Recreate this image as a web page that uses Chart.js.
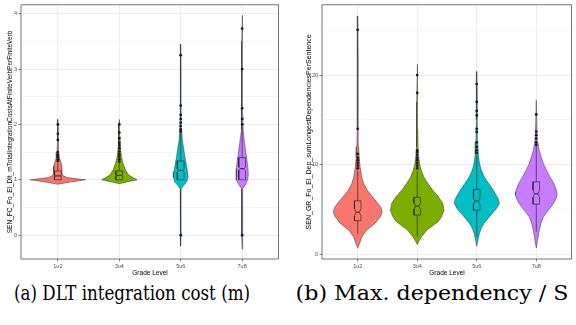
<!DOCTYPE html>
<html>
<head>
<meta charset="utf-8">
<script src="https://cdn.jsdelivr.net/npm/chart.js@4.4.0/dist/chart.umd.min.js"></script>
<style>
  html, body { margin: 0; padding: 0; background: #fff; }
  body { width: 576px; height: 325px; position: relative; overflow: hidden; }
  .panel { position: absolute; top: 0; }
  #panelA { left: 0; }
  #panelB { left: 290px; }
  .caption {
    position: absolute;
    top: 283px;
    font-family: "DejaVu Serif Condensed", "DejaVu Serif", serif;
    font-stretch: condensed;
    font-size: 21px;
    line-height: 21px;
    white-space: nowrap;
    transform-origin: 50% 50%;
    transform: translateX(-50%);
    color: #000;
  }
</style>
</head>
<body>
<div class="panel" id="panelA"><canvas id="costChart" width="290" height="280"></canvas></div>
<div class="panel" id="panelB"><canvas id="depChart" width="286" height="280"></canvas></div>
<div class="caption" style="left:132px" data-span="236">(a) DLT integration cost (m)</div>
<div class="caption" style="left:431.5px" data-span="273">(b) Max. dependency / S</div>
<script>
const grades = ['1u2', '3u4', '5u6', '7u8'];
const gradeColors = ['#F8766D', '#7CAE00', '#00BFC4', '#C77CFF'];

// (a) DLT integration cost per finite verb
const costTicks = [0, 1, 2, 3, 4];
const costViolinY = [
  [0.92, 0.96, 1.0, 1.04, 1.08, 1.15, 1.25, 1.32, 1.4, 1.5, 1.7, 1.9, 2.09],
  [0.93, 0.97, 1.0, 1.04, 1.09, 1.18, 1.3, 1.42, 1.6, 1.8, 2.0, 2.09],
  [-0.2, 0.0, 0.5, 0.84, 0.9, 0.97, 1.05, 1.15, 1.25, 1.4, 1.55, 1.7, 1.9, 2.2, 2.6, 3.0, 3.45],
  [-0.25, 0.0, 0.5, 0.84, 0.92, 1.0, 1.09, 1.2, 1.36, 1.54, 1.72, 1.9, 2.2, 2.6, 3.0, 3.5, 3.97],
];
const costViolinW = [
  [0, 0.2, 0.45, 0.15, 0.08, 0.07, 0.065, 0.05, 0.025, 0.014, 0.01, 0.008, 0],
  [0, 0.16, 0.29, 0.22, 0.15, 0.1, 0.06, 0.035, 0.016, 0.01, 0.008, 0],
  [0, 0.006, 0.005, 0.008, 0.05, 0.1, 0.12, 0.11, 0.095, 0.07, 0.05, 0.028, 0.014, 0.008, 0.006, 0.006, 0],
  [0, 0.008, 0.007, 0.01, 0.06, 0.09, 0.1, 0.095, 0.077, 0.055, 0.033, 0.016, 0.01, 0.008, 0.008, 0.007, 0],
];
const costQ1 = [1.0, 1.0, 1.0, 1.0];
const costMedian = [1.07, 1.08, 1.17, 1.2];
const costQ3 = [1.16, 1.16, 1.34, 1.4];
const costWhiskerLow = [1.0, 1.0, 1.0, 1.0];
const costWhiskerHigh = [1.3, 1.3, 1.85, 1.95];
const costNotch = [0.01, 0.01, 0.03, 0.03];
const costOutliers = [
  [2.0, 1.83, 1.72, 1.5, 1.45, 1.41, 1.37, 1.34],
  [2.0, 1.85, 1.75, 1.67, 1.62, 1.57, 1.51, 1.46, 1.42, 1.37, 1.33],
  [3.25, 2.34, 2.17, 2.1, 2.03, 1.97, 1.91, 1.87, 0.0],
  [3.73, 3.0, 2.29, 2.1, 2.0, 0.0],
];

// (b) sum of longest dependencies per sentence
const depTicks = [0, 10, 20];
const depViolinY = [
  [0.67, 1.2, 1.96, 2.7, 3.45, 4.19, 4.7, 5.2, 5.68, 6.4, 7.16, 7.9, 8.64, 9.75, 10.9, 12, 14, 18, 22, 26.6],
  [1.1, 1.5, 1.96, 2.7, 3.2, 3.63, 4.19, 4.93, 5.68, 6.4, 7.16, 7.9, 8.64, 9.4, 10.1, 11, 12, 14, 17, 21.2],
  [0.9, 1.6, 2.34, 2.9, 3.45, 4.0, 4.57, 5.1, 5.68, 6.2, 6.8, 7.35, 7.9, 8.6, 9.4, 10.2, 11.2, 12.5, 15, 18, 20.4],
  [0.7, 1.5, 2.7, 3.5, 4.19, 4.9, 5.68, 6.2, 6.6, 7.0, 7.5, 8.1, 8.64, 9.4, 10.1, 10.9, 11.6, 12.5, 14, 17.2],
];
const depViolinW = [
  [0, 0.03, 0.07, 0.15, 0.29, 0.38, 0.41, 0.39, 0.34, 0.25, 0.16, 0.1, 0.066, 0.04, 0.025, 0.015, 0.01, 0.008, 0.007, 0],
  [0, 0.03, 0.074, 0.16, 0.26, 0.35, 0.41, 0.45, 0.43, 0.36, 0.26, 0.18, 0.11, 0.066, 0.04, 0.022, 0.014, 0.01, 0.008, 0],
  [0, 0.02, 0.045, 0.075, 0.12, 0.19, 0.26, 0.33, 0.38, 0.36, 0.31, 0.26, 0.2, 0.13, 0.075, 0.045, 0.025, 0.015, 0.01, 0.008, 0],
  [0, 0.02, 0.05, 0.08, 0.12, 0.2, 0.29, 0.33, 0.35, 0.345, 0.32, 0.28, 0.23, 0.17, 0.12, 0.08, 0.05, 0.025, 0.012, 0],
];
const depQ1 = [3.75, 4.38, 4.93, 5.6];
const depMedian = [4.7, 5.38, 5.94, 6.75];
const depQ3 = [5.97, 6.35, 7.24, 8.09];
const depWhiskerLow = [2.3, 2.0, 2.0, 2.5];
const depWhiskerHigh = [9.3, 9.3, 11.0, 12.0];
const depNotch = [0.4, 0.35, 0.35, 0.4];
const depOutliers = [
  [25.05, 14.0, 11.2, 10.8, 10.5, 10.2, 9.9, 9.6],
  [20.0, 18.0, 11.6, 11.4, 11.1, 10.8, 10.5, 10.2, 9.9, 9.6],
  [19.0, 17.0, 16.0, 15.5, 14.0, 13.65, 12.5, 12.0, 11.6, 11.3],
  [15.6, 13.7, 13.3, 12.9, 12.5, 12.2],
];

Chart.defaults.font.family = '"Liberation Sans", Arial, sans-serif';
Chart.defaults.animation = false;

const BOX_HALF = 0.055;
const GRID = '#EBEBEB';
const INK = '#1a1a1a';

// squeeze each caption to the width it spans under the panel
document.querySelectorAll('.caption').forEach((el) => {
  const k = Number(el.dataset.span) / el.offsetWidth;
  el.style.transform = `translateX(-50%) scaleX(${k})`;
});

const violinPoints = (x0, ys, ws) => {
  const right = ys.map((y, k) => ({ x: x0 + ws[k], y }));
  const left = ys.map((y, k) => ({ x: x0 - ws[k], y })).reverse();
  return right.concat(left);
};

const notchedBox = (x0, q1, med, q3, notch) => {
  const h = BOX_HALF;
  const dent = BOX_HALF / 2;
  return [
    { x: x0 - h, y: q1 }, { x: x0 + h, y: q1 },
    { x: x0 + h, y: med - notch }, { x: x0 + dent, y: med }, { x: x0 + h, y: med + notch },
    { x: x0 + h, y: q3 }, { x: x0 - h, y: q3 },
    { x: x0 - h, y: med + notch }, { x: x0 - dent, y: med }, { x: x0 - h, y: med - notch },
    { x: x0 - h, y: q1 },
  ];
};

const buildDatasets = (s) => {
  const sets = [];
  grades.forEach((g, i) => {
    const x0 = i + 1;
    sets.push({
      label: g + ' violin',
      data: violinPoints(x0, s.violinY[i], s.violinW[i]),
      showLine: true,
      fill: 'shape',
      backgroundColor: gradeColors[i],
      borderColor: '#333333',
      borderWidth: 0.5,
      pointRadius: 0,
      order: 5,
    });
    sets.push({
      label: g + ' whisker',
      data: [{ x: x0, y: s.low[i] }, { x: x0, y: s.high[i] }],
      showLine: true,
      borderColor: INK,
      borderWidth: 0.6,
      pointRadius: 0,
      order: 4,
    });
    sets.push({
      label: g + ' box',
      data: notchedBox(x0, s.q1[i], s.median[i], s.q3[i], s.notch[i]),
      showLine: true,
      fill: 'shape',
      backgroundColor: gradeColors[i],
      borderColor: INK,
      borderWidth: 0.6,
      pointRadius: 0,
      order: 3,
    });
    sets.push({
      label: g + ' median',
      data: [{ x: x0 - BOX_HALF / 2, y: s.median[i] }, { x: x0 + BOX_HALF / 2, y: s.median[i] }],
      showLine: true,
      borderColor: INK,
      borderWidth: 0.9,
      pointRadius: 0,
      order: 2,
    });
    sets.push({
      label: g + ' outliers',
      data: s.outliers[i].map((y) => ({ x: x0, y })),
      showLine: false,
      pointRadius: 1.4,
      pointBackgroundColor: INK,
      pointBorderWidth: 0,
      order: 1,
    });
  });
  return sets;
};

const panelBorder = {
  id: 'panelBorder',
  afterDraw(chart) {
    const { ctx, chartArea: a } = chart;
    ctx.save();
    ctx.strokeStyle = '#555555';
    ctx.lineWidth = 0.8;
    ctx.strokeRect(a.left, a.top, a.right - a.left - 0.5, a.bottom - a.top);
    ctx.restore();
  },
};

const makeChart = (canvasId, s) => {
  const step = (s.majors[1] - s.majors[0]) / 2;
  const minors = s.majors.map((v) => v + step)
    .concat([s.majors[0] - step])
    .filter((v) => v > s.yMin && v < s.yMax);
  const isMajor = (v) => s.majors.includes(v);

  return new Chart(document.getElementById(canvasId), {
    type: 'scatter',
    data: { datasets: buildDatasets(s) },
    options: {
      responsive: false,
      events: [],
      layout: { padding: { top: 4, right: s.padRight, left: 0, bottom: 0 } },
      plugins: { legend: { display: false }, tooltip: { enabled: false } },
      scales: {
        x: {
          type: 'linear',
          min: 0.4,
          max: 4.6,
          afterBuildTicks: (axis) => {
            axis.ticks = grades.map((g, i) => ({ value: i + 1 }));
          },
          afterFit: (axis) => { axis.height = 21; },
          border: { display: false },
          grid: { color: GRID, lineWidth: 0.9, tickColor: '#333333', tickLength: 2.5, tickWidth: 0.6 },
          ticks: {
            autoSkip: false,
            maxRotation: 0,
            padding: 1.5,
            color: '#4D4D4D',
            font: { size: 5.5 },
            callback: (v) => grades[v - 1],
          },
          title: {
            display: true,
            text: 'Grade Level',
            color: '#000',
            font: { size: 6.5 },
            padding: { top: 0, bottom: 3 },
          },
        },
        y: {
          type: 'linear',
          min: s.yMin,
          max: s.yMax,
          afterBuildTicks: (axis) => {
            axis.ticks = s.majors.concat(minors).sort((a, b) => a - b).map((v) => ({ value: v }));
          },
          afterFit: (axis) => { axis.width = s.yAxisWidth; },
          border: { display: false },
          grid: {
            color: GRID,
            lineWidth: (ctx) => (isMajor(ctx.tick.value) ? 0.9 : 0.45),
            tickColor: (ctx) => (isMajor(ctx.tick.value) ? '#333333' : 'rgba(0,0,0,0)'),
            tickLength: 2.5,
            tickWidth: 0.6,
          },
          ticks: {
            autoSkip: false,
            padding: 1.5,
            color: '#4D4D4D',
            font: { size: 5.5 },
            callback: (v) => (isMajor(v) ? String(v) : ''),
          },
          title: {
            display: true,
            text: s.yTitle,
            color: '#000',
            font: { size: s.yTitleSize },
            padding: { top: s.yTitlePad, bottom: 0 },
          },
        },
      },
    },
    plugins: [panelBorder],
  });
};

makeChart('costChart', {
  violinY: costViolinY, violinW: costViolinW,
  q1: costQ1, median: costMedian, q3: costQ3,
  low: costWhiskerLow, high: costWhiskerHigh, notch: costNotch,
  outliers: costOutliers,
  majors: costTicks, yMin: -0.43, yMax: 4.16,
  yTitle: 'SEN_FC_Fo_El_Dlt_mTotalIntegrationCostsAtFiniteVerbPerFiniteVerb',
  yTitleSize: 6.5, yTitlePad: 6.2, yAxisWidth: 21, padRight: 11,
});

makeChart('depChart', {
  violinY: depViolinY, violinW: depViolinW,
  q1: depQ1, median: depMedian, q3: depQ3,
  low: depWhiskerLow, high: depWhiskerHigh, notch: depNotch,
  outliers: depOutliers,
  majors: depTicks, yMin: -0.52, yMax: 27.84,
  yTitle: 'SEN_GR_Fo_El_Dep_sumLongestDependenciesPerSentence',
  yTitleSize: 7, yTitlePad: 15.3, yAxisWidth: 32, padRight: 0,
});
</script>
</body>
</html>
